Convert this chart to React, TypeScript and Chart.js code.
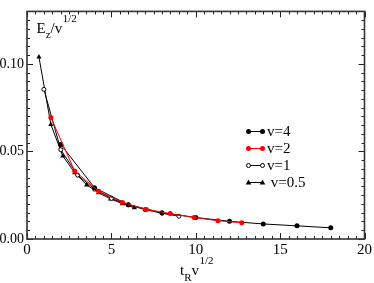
import React, { useEffect, useRef } from "react";
import { Chart, registerables } from "chart.js";

Chart.register(...registerables);

// t_R v^{1/2} values and E_z / v^{1/2} values for each series
const xV4 = [2, 4, 6, 8, 10, 12, 14, 16, 18];
const yV4 = [0.054, 0.0293, 0.0196, 0.015, 0.0123, 0.0101, 0.0086, 0.0075, 0.0064];

const xV2 = [1.414, 2.828, 4.243, 5.657, 7.071, 8.485, 9.899, 11.314, 12.728];
const yV2 = [0.0694, 0.0388, 0.0273, 0.0209, 0.0169, 0.0145, 0.0123, 0.0104, 0.0093];

const xV1 = [1, 2, 3, 4, 5, 6, 7, 8, 9];
const yV1 = [0.0855, 0.051, 0.0365, 0.0285, 0.0232, 0.0195, 0.0168, 0.0147, 0.013];

const xV05 = [0.707, 1.414, 2.121, 2.828, 3.536, 4.243, 4.95, 5.657, 6.364];
const yV05 = [0.104, 0.0654, 0.0474, 0.0379, 0.0309, 0.0264, 0.0229, 0.0202, 0.0178];

const legendLabels = ["v=4", "v=2", "v=1", " v=0.5"];
const xTickLabels = ["0", "5", "10", "15", "20"];
const yTickLabels = ["0.00", "0.05", "0.10"];

const FONT = "'Liberation Serif', 'DejaVu Serif', serif";

type Style = "filled" | "red" | "open" | "tri";

function drawMarker(ctx: CanvasRenderingContext2D, style: Style, x: number, y: number) {
  ctx.save();
  ctx.lineWidth = 1;
  if (style === "filled" || style === "red") {
    const c = style === "red" ? "#ff0000" : "#000000";
    ctx.fillStyle = c;
    ctx.beginPath();
    ctx.arc(x, y, 2.5, 0, Math.PI * 2);
    ctx.fill();
  } else if (style === "open") {
    ctx.fillStyle = "#ffffff";
    ctx.strokeStyle = "#000000";
    ctx.beginPath();
    ctx.arc(x, y, 2, 0, Math.PI * 2);
    ctx.fill();
    ctx.stroke();
  } else {
    ctx.fillStyle = "#000000";
    ctx.beginPath();
    ctx.moveTo(x, y - 3);
    ctx.lineTo(x + 2.8, y + 2);
    ctx.lineTo(x - 2.8, y + 2);
    ctx.closePath();
    ctx.fill();
  }
  ctx.restore();
}

const decor = {
  id: "decor",
  afterDraw(chart: any) {
    const ctx: CanvasRenderingContext2D = chart.ctx;
    const a = chart.chartArea;
    const xs = chart.scales.x;
    const ys = chart.scales.y;
    ctx.save();
    // ticks
    ctx.strokeStyle = "#222";
    ctx.lineWidth = 1;
    ctx.beginPath();
    for (let i = 0; i <= 40; i++) {
      const px = Math.round(xs.getPixelForValue(i * 0.5)) + 0.5;
      const len = i % 10 === 0 ? 6 : 3;
      ctx.moveTo(px, a.bottom);
      ctx.lineTo(px, a.bottom - len);
      ctx.moveTo(px, a.top);
      ctx.lineTo(px, a.top + len);
    }
    for (let i = 0; i <= 26; i++) {
      const py = Math.round(ys.getPixelForValue(i * 0.005)) + 0.5;
      const len = i % 10 === 0 ? 6 : 3;
      ctx.moveTo(a.left, py);
      ctx.lineTo(a.left + len, py);
      ctx.moveTo(a.right, py);
      ctx.lineTo(a.right - len, py);
    }
    ctx.stroke();
    // frame
    ctx.strokeStyle = "#333";
    ctx.lineWidth = 1.6;
    ctx.strokeRect(a.left, a.top, a.right - a.left, a.bottom - a.top);

    // y title: E_z / v^{1/2}
    ctx.fillStyle = "#000";
    ctx.textBaseline = "alphabetic";
    ctx.textAlign = "left";
    const big = `15px ${FONT}`;
    const small = `11px ${FONT}`;
    let cx = 36.5;
    ctx.font = big;
    ctx.fillText("E", cx, 33);
    cx += ctx.measureText("E").width;
    ctx.font = small;
    ctx.fillText("z", cx, 38);
    cx += ctx.measureText("z").width;
    ctx.font = big;
    ctx.fillText("/v", cx, 33);
    cx += ctx.measureText("/v").width;
    ctx.font = small;
    ctx.fillText("1/2", cx + 0.5, 22);

    // x title: t_R v^{1/2}
    cx = 180;
    ctx.font = big;
    ctx.fillText("t", cx, 274.5);
    cx += ctx.measureText("t").width;
    ctx.font = small;
    ctx.fillText("R", cx, 281);
    cx += ctx.measureText("R").width;
    ctx.font = big;
    ctx.fillText("v", cx, 274.5);
    cx += ctx.measureText("v").width;
    ctx.font = small;
    ctx.fillText("1/2", cx + 0.5, 264);

    // legend
    const styles: Style[] = ["filled", "red", "open", "tri"];
    const colors = ["#000", "#ff0000", "#000", "#000"];
    ctx.font = big;
    ctx.textBaseline = "middle";
    for (let i = 0; i < legendLabels.length; i++) {
      const ly = 131.5 + i * 17;
      ctx.strokeStyle = colors[i];
      ctx.lineWidth = 1;
      ctx.beginPath();
      ctx.moveTo(248.5, ly);
      ctx.lineTo(262.5, ly);
      ctx.stroke();
      drawMarker(ctx, styles[i], 248.5, ly);
      drawMarker(ctx, styles[i], 262.5, ly);
      ctx.fillStyle = "#000";
      ctx.fillText(legendLabels[i], 267, ly + 0.5);
    }
    ctx.restore();
  },
};

function pts(xs: number[], ys: number[]) {
  return xs.map((x, i) => ({ x, y: ys[i] }));
}

export default function App() {
  const ref = useRef<HTMLCanvasElement | null>(null);
  useEffect(() => {
    if (!ref.current) return;
    const chart = new Chart(ref.current, {
      type: "line",
      data: {
        datasets: [
          {
            label: legendLabels[0],
            data: pts(xV4, yV4),
            borderColor: "#000",
            backgroundColor: "#000",
            borderWidth: 1,
            pointRadius: 2.5,
            pointBorderWidth: 0,
            pointBackgroundColor: "#000",
            order: 1,
          },
          {
            label: legendLabels[1],
            data: pts(xV2, yV2),
            borderColor: "#ff0000",
            backgroundColor: "#ff0000",
            borderWidth: 1,
            pointRadius: 2.5,
            pointBorderWidth: 0,
            pointBackgroundColor: "#ff0000",
            order: 0,
          },
          {
            label: legendLabels[2],
            data: pts(xV1, yV1),
            borderColor: "#000",
            backgroundColor: "#fff",
            borderWidth: 1,
            pointRadius: 2,
            pointBorderWidth: 1,
            pointBorderColor: "#000",
            pointBackgroundColor: "#fff",
            order: 2,
          },
          {
            label: legendLabels[3],
            data: pts(xV05, yV05),
            borderColor: "#000",
            backgroundColor: "#000",
            borderWidth: 1,
            pointStyle: "triangle",
            pointRadius: 3,
            pointBorderWidth: 0,
            pointBackgroundColor: "#000",
            order: 3,
          },
        ],
      },
      options: {
        responsive: false,
        animation: false,
        devicePixelRatio: 1,
        layout: { padding: { top: 2, right: 9, left: 0, bottom: 0 } },
        plugins: { legend: { display: false }, tooltip: { enabled: false } },
        elements: { line: { tension: 0 } },
        scales: {
          x: {
            type: "linear",
            min: 0,
            max: 20,
            grid: { display: false, drawTicks: false },
            border: { display: false },
            ticks: {
              stepSize: 5,
              padding: 2,
              color: "#000",
              font: { family: FONT, size: 15 },
              maxRotation: 0,
              callback: (v: any) => xTickLabels[Math.round(Number(v) / 5)] ?? "",
            },
            afterFit: (s: any) => {
              s.height = 44;
            },
          },
          y: {
            type: "linear",
            min: 0,
            max: 0.13,
            grid: { display: false, drawTicks: false },
            border: { display: false },
            ticks: {
              stepSize: 0.05,
              padding: 3,
              color: "#000",
              font: { family: FONT, size: 14 },
              callback: (v: any) => yTickLabels[Math.round(Number(v) / 0.05)] ?? "",
            },
            afterFit: (s: any) => {
              s.width = 27;
            },
          },
        },
      },
      plugins: [decor],
    });
    return () => chart.destroy();
  }, []);
  return (
    <div style={{ position: "fixed", left: 0, top: 0, width: 374, height: 283, background: "#fff" }}>
      <canvas ref={ref} width={374} height={283} style={{ width: 374, height: 283, display: "block" }} />
    </div>
  );
}
